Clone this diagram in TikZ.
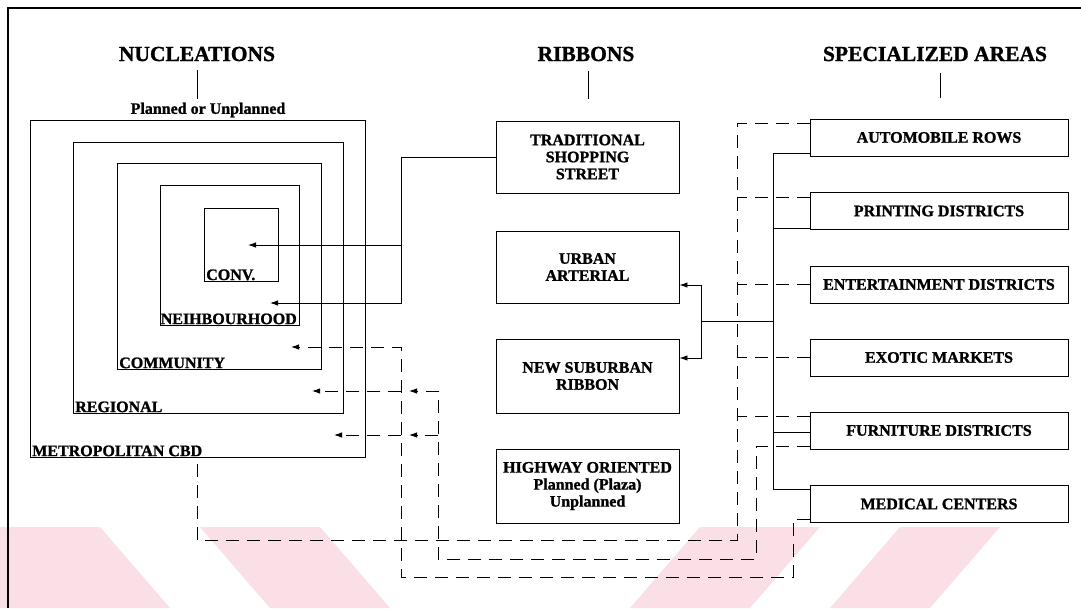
\documentclass[tikz,border=0pt]{standalone}
\usepackage{fontspec}
\setmainfont{Liberation Serif}[BoldFeatures={FakeBold=1.2}]
\usetikzlibrary{arrows.meta,calc}
\definecolor{wm}{RGB}{250,224,230}
\begin{document}
\begin{tikzpicture}[x=1pt,y=-1pt]
\tikzset{
 ln/.style={line width=0.9pt},
 dsh/.style={line width=0.9pt, dash pattern=on 13pt off 8pt},
 arr/.style={-{Latex[length=8pt,width=5.5pt]}},
 sq/.style={draw, line width=0.9pt, inner sep=0pt},
 bx/.style={draw, line width=0.9pt, inner sep=0pt, align=center, font=\bfseries\fontsize{16}{17}\selectfont},
 sqlbl/.style={anchor=south west, inner xsep=2.5pt, inner ysep=1pt, font=\bfseries\fontsize{16}{17}\selectfont},
 head/.style={font=\bfseries\fontsize{21.5}{24}\selectfont},
 sub/.style={font=\bfseries\fontsize{16}{17}\selectfont}
}
\useasboundingbox (0,0) rectangle (1081,608);
\fill[white] (0,0) rectangle (1081,608);
% watermark (rough)
\fill[wm] (0,527) -- (100,527) -- (170,608) -- (0,608) -- cycle;
\fill[wm] (200,527) -- (320,527) -- (390,608) -- (270,608) -- cycle;
\fill[wm] (700,527) -- (820,527) -- (750,608) -- (630,608) -- cycle;
\fill[wm] (900,527) -- (1000,527) -- (930,608) -- (830,608) -- cycle;
% frame
\draw[line width=1.5pt] (8,608) -- (8,8) -- (1081,8);
% headings
\node[head] (hN) at (197,54) {NUCLEATIONS};
\node[head] (hR) at (586,54) {RIBBONS};
\node[head] (hS) at (935,54) {SPECIALIZED AREAS};
\draw[ln] ($(hN.south)+(0,5)$) -- ++(0,29);
\draw[ln] ($(hR.south)+(2,6)$) -- ++(0,28);
\draw[ln] ($(hS.south)+(5,8)$) -- ++(0,25);
\node[sub] (pu) at (208,110) {Planned or Unplanned};
% nested squares
\node[sq, minimum width=335pt, minimum height=337pt] (metro) at (197.5,288.5) {};
\node[sq, minimum width=270pt, minimum height=271pt] (reg) at (208,277.5) {};
\node[sq, minimum width=204pt, minimum height=206pt] (com) at (219,266) {};
\node[sq, minimum width=139pt, minimum height=140pt] (nei) at (229.5,255) {};
\node[sq, minimum width=74pt, minimum height=73pt] (conv) at (241,244.5) {};
\node[sqlbl] (lMetro) at (metro.south west) {METROPOLITAN CBD};
\node[sqlbl] (lReg) at (reg.south west) {REGIONAL};
\node[sqlbl] (lCom) at (com.south west) {COMMUNITY};
\node[sqlbl, inner xsep=1pt] (lNei) at (nei.south west) {NEIHBOURHOOD};
\node[sqlbl] (lConv) at (conv.south west) {CONV.};
% ribbons
\node[bx, minimum width=183pt, minimum height=72pt] (trad) at (587.5,157) {TRADITIONAL\\SHOPPING\\STREET};
\node[bx, minimum width=183pt, minimum height=72pt] (urban) at (587.5,267) {URBAN\\ARTERIAL};
\node[bx, minimum width=183pt, minimum height=74pt] (newsub) at (587.5,376) {NEW SUBURBAN\\RIBBON};
\node[bx, minimum width=183pt, minimum height=74pt] (hwy) at (587.5,486) {HIGHWAY ORIENTED\\Planned (Plaza)\\Unplanned};
% specialized areas
\node[bx, minimum width=258pt, minimum height=37pt] (auto) at (939,137.5) {AUTOMOBILE ROWS};
\node[bx, minimum width=258pt, minimum height=37pt] (print) at (939,211) {PRINTING DISTRICTS};
\node[bx, minimum width=258pt, minimum height=37pt] (ent) at (939,284.5) {ENTERTAINMENT DISTRICTS};
\node[bx, minimum width=258pt, minimum height=37pt] (exo) at (939,357.5) {EXOTIC MARKETS};
\node[bx, minimum width=258pt, minimum height=37pt] (furn) at (939,430.5) {FURNITURE DISTRICTS};
\node[bx, minimum width=258pt, minimum height=37pt] (med) at (939,504) {MEDICAL CENTERS};
% arrow tips and joints
\coordinate (tipCo) at (248,245);
\coordinate (tipNe) at (270,303);
\coordinate (tipCm) at (291,347);
\coordinate (tipRe) at (312,391);
\coordinate (tipMe) at (334,435);
\coordinate (tipB1) at (409,391);
\coordinate (tipB2) at (409,435);
\coordinate (jA) at (401,303);
\coordinate (jB) at (401,245);
\coordinate (sMid) at (774,321);
\coordinate (vMid) at (701,321);
\coordinate (trB) at (737,540);
\coordinate (bA) at (756,559);
\coordinate (bB) at (438,391);
\coordinate (bC) at (438,435);
\coordinate (cA) at (793,577);
\coordinate (cB) at (401,347);
\coordinate (cC) at (401,391);
\coordinate (cD) at (401,435);
% solid connectors
\draw[ln,arr] (trad.west) -| (jA) -- (tipNe);
\draw[ln,arr] (jB) -- (tipCo);
\draw[ln] ($(auto.south west)+(0,-3)$) -| ($(med.north west)+(-36,4)$) -- ($(med.north west)+(0,4)$);
\draw[ln] ($(print.south west)+(0,-2)$) -- ++(-36,0);
\draw[ln] ($(furn.west)+(0,1.5)$) -- ++(-36,0);
\draw[ln] (sMid) -- (vMid);
\draw[ln,arr] (vMid) |- ($(urban.east)+(0,18)$);
\draw[ln,arr] (vMid) |- ($(newsub.east)+(0,-18)$);
% dashed connectors
\draw[dsh] ($(auto.north west)+(0,5)$) -| (trB) -| (metro.south);
\draw[dsh] ($(print.north west)+(0,5)$) -- ++(-73,0);
\draw[dsh] (ent.west) -- ++(-73,0);
\draw[dsh] (exo.west) -- ++(-73,0);
\draw[dsh] ($(furn.north west)+(0,5)$) -- ++(-73,0);
\draw[dsh,arr] ($(furn.south west)+(0,-3)$) -| (bA) -| (bB) -- (tipB1);
\draw[dsh,arr] (bC) -- (tipB2);
\draw[dsh,arr] ($(med.south west)+(0,-4)$) -| (cA) -| (cB) -- (tipCm);
\draw[dsh,arr] (cC) -- (tipRe);
\draw[dsh,arr] (cD) -- (tipMe);
\end{tikzpicture}
\end{document}
